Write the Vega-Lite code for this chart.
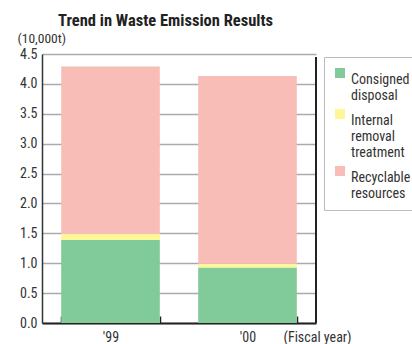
{
  "$schema": "https://vega.github.io/schema/vega-lite/v6.json",
  "width": 274,
  "height": 269,
  "autosize": {"type": "none"},
  "padding": {"left": 42, "top": 54, "right": 96, "bottom": 21},
  "background": "white",
  "title": {
    "text": "Trend in Waste Emission Results",
    "font": "Roboto Condensed",
    "fontSize": 16.5,
    "fontWeight": "bold",
    "color": "#222",
    "anchor": "start",
    "frame": "group",
    "dx": 16,
    "offset": 2
  },
  "data": {
    "values": [
      {"year": "'99", "type": "Consigned disposal", "order": 1, "value": 1.39},
      {"year": "'99", "type": "Internal removal treatment", "order": 2, "value": 0.10},
      {"year": "'99", "type": "Recyclable resources", "order": 3, "value": 2.80},
      {"year": "'00", "type": "Consigned disposal", "order": 1, "value": 0.93},
      {"year": "'00", "type": "Internal removal treatment", "order": 2, "value": 0.06},
      {"year": "'00", "type": "Recyclable resources", "order": 3, "value": 3.14}
    ]
  },
  "config": {
    "view": {"stroke": null},
    "font": "Roboto Condensed"
  },
  "resolve": {"scale": {"x": "independent"}},
  "layer": [
    {
      "mark": {"type": "bar"},
      "encoding": {
        "x": {
          "field": "year",
          "type": "nominal",
          "sort": ["'99", "'00"],
          "scale": {"paddingInner": 0.28, "paddingOuter": 0.14},
          "axis": {
            "labelAngle": 0,
            "labelFontSize": 14,
            "labelColor": "#333",
            "labelPadding": 14,
            "domainColor": "#222",
            "domainWidth": 2,
            "tickBand": "extent",
            "tickSize": -7,
            "tickColor": "#222",
            "tickWidth": 1.5,
            "title": "(Fiscal year)",
            "titleFontSize": 14,
            "titleFontWeight": "normal",
            "titleColor": "#333",
            "titleAlign": "left",
            "titleBaseline": "bottom",
            "titleAnchor": "start",
            "titleX": 241,
            "titleY": 21
          }
        },
        "y": {
          "field": "value",
          "type": "quantitative",
          "stack": "zero",
          "scale": {"domain": [0, 4.5], "nice": false},
          "axis": {
            "values": [0, 0.5, 1, 1.5, 2, 2.5, 3, 3.5, 4, 4.5],
            "format": ".1f",
            "ticks": false,
            "labelPadding": 5,
            "labelFontSize": 14,
            "labelColor": "#333",
            "domainColor": "#333",
            "domainWidth": 1.5,
            "grid": true,
            "gridColor": "#aaa",
            "gridWidth": 1.5,
            "title": "(10,000t)",
            "titleAngle": 0,
            "titleFontSize": 13.5,
            "titleFontWeight": "normal",
            "titleColor": "#333",
            "titleAlign": "left",
            "titleBaseline": "bottom",
            "titleX": -25,
            "titleY": -9
          }
        },
        "color": {
          "field": "type",
          "type": "nominal",
          "sort": ["Consigned disposal", "Internal removal treatment", "Recyclable resources"],
          "scale": {
            "domain": ["Consigned disposal", "Internal removal treatment", "Recyclable resources"],
            "range": ["#81CA9A", "#FFF599", "#F8BDB7"]
          },
          "legend": {
            "title": null,
            "orient": "none",
            "legendX": 282,
            "legendY": 3,
            "symbolType": "square",
            "symbolSize": 100,
            "symbolStrokeWidth": 0,
            "symbolOpacity": 1,
            "labelFontSize": 14,
            "labelColor": "#333",
            "labelBaseline": "top",
            "labelOffset": 4,
            "labelExpr": "datum.label == 'Consigned disposal' ? ['Consigned', 'disposal'] : datum.label == 'Internal removal treatment' ? ['Internal', 'removal', 'treatment'] : ['Recyclable', 'resources']",
            "rowPadding": 4,
            "strokeColor": "#bbb",
            "padding": 9,
            "fillColor": "white"
          }
        },
        "order": {"field": "order", "type": "quantitative"}
      }
    },
    {
      "mark": {"type": "rule", "color": "#222", "strokeWidth": 2},
      "encoding": {
        "x": {"datum": 1, "type": "quantitative", "scale": {"domain": [0, 1], "nice": false, "zero": false}, "axis": null},
        "y": {
          "datum": 0,
          "type": "quantitative",
          "axis": {
            "values": [0, 0.5, 1, 1.5, 2, 2.5, 3, 3.5, 4, 4.5],
            "format": ".1f",
            "ticks": false,
            "labelPadding": 5,
            "labelFontSize": 14,
            "labelColor": "#333",
            "domainColor": "#333",
            "domainWidth": 1.5,
            "grid": true,
            "gridColor": "#aaa",
            "gridWidth": 1.5,
            "title": "(10,000t)",
            "titleAngle": 0,
            "titleFontSize": 13.5,
            "titleFontWeight": "normal",
            "titleColor": "#333",
            "titleAlign": "left",
            "titleBaseline": "bottom",
            "titleX": -25,
            "titleY": -9
          }
        },
        "y2": {"datum": 4.45}
      }
    }
  ]
}
